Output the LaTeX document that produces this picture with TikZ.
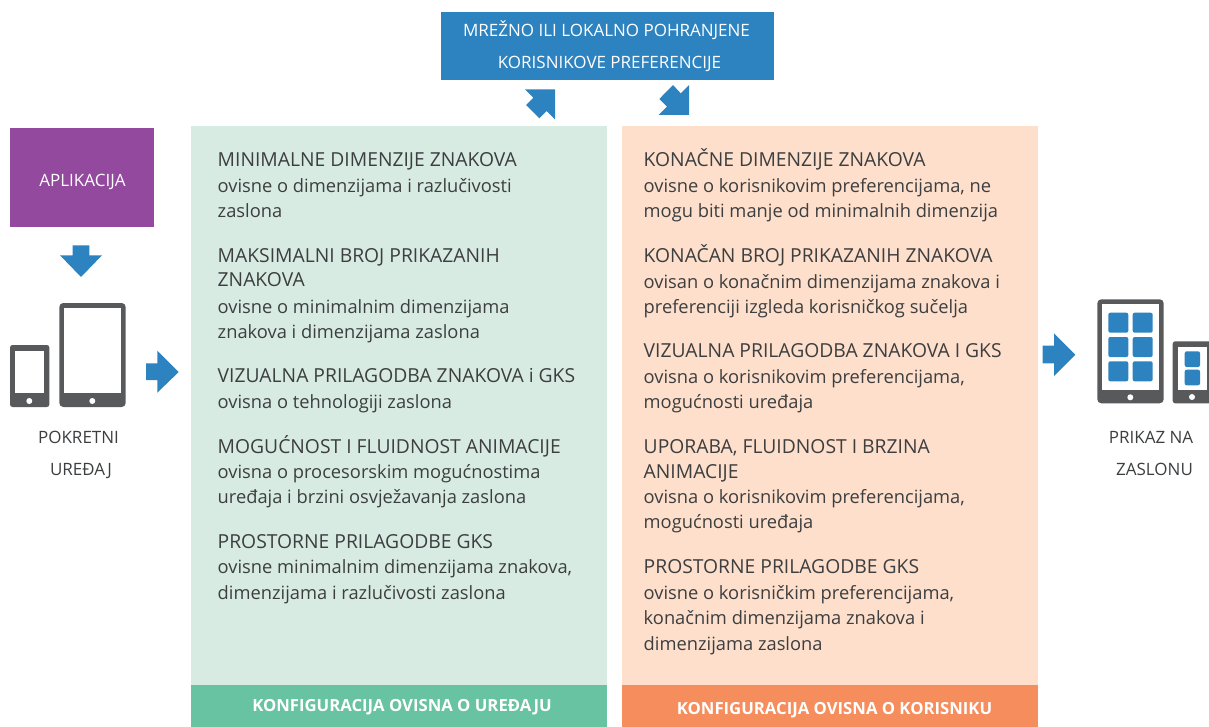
\documentclass[tikz,border=0pt]{standalone}
\usepackage{fontspec}
\setmainfont{Open Sans}
\definecolor{blueC}{HTML}{2D82C0}
\definecolor{purpleC}{HTML}{93499D}
\definecolor{greyC}{HTML}{58595B}
\definecolor{textC}{HTML}{3C3E40}
\definecolor{greenL}{HTML}{D8EBE3}
\definecolor{greenD}{HTML}{68C3A3}
\definecolor{orangeL}{HTML}{FDDFCB}
\definecolor{orangeD}{HTML}{F68D5C}
\tikzset{x=1pt,y=-1pt,
 heading/.style={anchor=base west,inner sep=0pt,xshift=-0.5pt,yshift=-1pt,font=\fontsize{19.3}{25}\selectfont,text=textC},
 body/.style={anchor=base west,inner sep=0pt,xshift=-0.5pt,yshift=-1pt,font=\fontsize{18.3}{25}\selectfont,text=textC},
 capt/.style={anchor=base,inner sep=0pt,font=\fontsize{17}{20}\selectfont,text=textC},
 wcap/.style={anchor=base,inner sep=0pt,font=\fontsize{17}{20}\selectfont,text=white},
 bcap/.style={anchor=base,inner sep=0pt,font=\fontsize{16.7}{20}\selectfont\bfseries,text=white},
 arrowF/.style={fill=blueC,draw=none},
 devF/.style={fill=greyC,draw=none},
 tile/.style={fill=blueC,draw=none,rounded corners=2pt}}
\begin{document}
\begin{tikzpicture}
\useasboundingbox (0,0) rectangle (1209,727);
% panels
\fill[greenL] (191,126) rectangle (607,685);
\fill[greenD] (191,685) rectangle (607,727);
\fill[orangeL] (622,126) rectangle (1038,685);
\fill[orangeD] (622,685) rectangle (1038,727);
\fill[blueC] (440.7,12) rectangle (773.7,80.3);
\fill[purpleC] (10,128) rectangle (154,227);
% arrows
\fill[arrowF] (72.7,245.3)--(89.3,245.3)--(89.3,255.3)--(102,255.3)--(81,277)--(60,255.3)--(72.7,255.3)--cycle;
\fill[arrowF] (146,363.3)--(157.3,363.3)--(157.3,350.7)--(178.7,372)--(157.3,392.7)--(157.3,380)--(146,380)--cycle;
\fill[arrowF] (1042.7,345.7)--(1054,345.7)--(1054,333.3)--(1075.3,354.7)--(1054,376)--(1054,363.3)--(1042.7,363.3)--cycle;
\fill[arrowF] (525,89.3)--(555,89.3)--(555,119.3)--(546.7,111)--(539.3,118.3)--(526,105)--(533.3,97.7)--cycle;
\fill[arrowF] (689,85)--(689,115)--(658.7,115)--(667,106.7)--(659.3,99)--(673,85)--(680.7,93.3)--cycle;
% left devices
\fill[devF,rounded corners=2.5pt] (10,345) rectangle (49.3,407);
\fill[white] (15,350.7) rectangle (44.3,393.3);
\fill[white] (29.3,401) circle (3);
\fill[devF,rounded corners=4pt] (59.3,303) rectangle (125.7,407);
\fill[white] (64.3,308) rectangle (120.7,393.3);
\fill[white] (92.3,401) circle (3);
% right devices
\fill[devF,rounded corners=4pt] (1097.3,299.3) rectangle (1163.7,403.3);
\fill[white] (1102.3,304.3) rectangle (1158.7,390);
\fill[white] (1130.3,397.3) circle (3);
\foreach \xa in {1108.3,1132.7}{\foreach \ya in {312.7,337,361.3}{
 \fill[tile] (\xa,\ya) rectangle ++(20,20);}}
\fill[devF,rounded corners=2.5pt] (1172.7,341.3) rectangle (1216,403.3);
\fill[white] (1177.7,347) rectangle (1206.7,390);
\fill[white] (1192,397) circle (3);
\fill[tile] (1184.7,351.3) rectangle (1200,367);
\fill[tile] (1184.7,369.7) rectangle (1200,385.3);
% caps
\node[wcap] (t1) at (606.5,37) {MREŽNO ILI LOKALNO POHRANJENE};
\node[wcap] (t2) at (609.5,69) {KORISNIKOVE PREFERENCIJE};
\node[wcap] (ap) at (82.5,187) {APLIKACIJA};
\node[capt] (p1) at (78.5,443) {POKRETNI};
\node[capt] (p2) at (81,475) {UREĐAJ};
\node[capt] (z1) at (1151,443) {PRIKAZ NA};
\node[capt] (z2) at (1154.5,475) {ZASLONU};
\node[bcap] (f1) at (402,711) {KONFIGURACIJA OVISNA O UREĐAJU};
\node[bcap] (f2) at (834.5,714) {KONFIGURACIJA OVISNA O KORISNIKU};
% left text
\node[heading] (a1) at (218,166) {MINIMALNE DIMENZIJE ZNAKOVA};
\node[body] (a2) at (218,192) {ovisne o dimenzijama i razlučivosti};
\node[body] (a3) at (218,217) {zaslona};
\node[heading] (a4) at (218,261) {MAKSIMALNI BROJ PRIKAZANIH};
\node[heading] (a5) at (218,286) {ZNAKOVA};
\node[body] (a6) at (218,312) {ovisne o minimalnim dimenzijama};
\node[body] (a7) at (218,337) {znakova i dimenzijama zaslona};
\node[heading] (a8) at (218,381) {VIZUALNA PRILAGODBA ZNAKOVA i GKS};
\node[body] (a9) at (218,407) {ovisna o tehnologiji zaslona};
\node[heading] (a10) at (218,452) {MOGUĆNOST I FLUIDNOST ANIMACIJE};
\node[body] (a11) at (218,477) {ovisna o procesorskim mogućnostima};
\node[body] (a12) at (218,502) {uređaja i brzini osvježavanja zaslona};
\node[heading] (a13) at (218,547) {PROSTORNE PRILAGODBE GKS};
\node[body] (a14) at (218,572) {ovisne minimalnim dimenzijama znakova,};
\node[body] (a15) at (218,598) {dimenzijama i razlučivosti zaslona};
% right text
\node[heading] (b1) at (644,166) {KONAČNE DIMENZIJE ZNAKOVA};
\node[body] (b2) at (644,192) {ovisne o korisnikovim preferencijama, ne};
\node[body] (b3) at (644,217) {mogu biti manje od minimalnih dimenzija};
\node[heading] (b4) at (644,261) {KONAČAN BROJ PRIKAZANIH ZNAKOVA};
\node[body] (b5) at (644,287) {ovisan o konačnim dimenzijama znakova i};
\node[body] (b6) at (644,312) {preferenciji izgleda korisničkog sučelja};
\node[heading] (b7) at (644,356) {VIZUALNA PRILAGODBA ZNAKOVA I GKS};
\node[body] (b8) at (644,382) {ovisna o korisnikovim preferencijama,};
\node[body] (b9) at (644,407) {mogućnosti uređaja};
\node[heading] (b10) at (644,452) {UPORABA, FLUIDNOST I BRZINA};
\node[heading] (b11) at (644,477) {ANIMACIJE};
\node[body] (b12) at (644,502) {ovisna o korisnikovim preferencijama,};
\node[body] (b13) at (644,527) {mogućnosti uređaja};
\node[heading] (b14) at (644,572) {PROSTORNE PRILAGODBE GKS};
\node[body] (b15) at (644,598) {ovisne o korisničkim preferencijama,};
\node[body] (b16) at (644,623) {konačnim dimenzijama znakova i};
\node[body] (b17) at (644,649) {dimenzijama zaslona};
\end{tikzpicture}
\end{document}
